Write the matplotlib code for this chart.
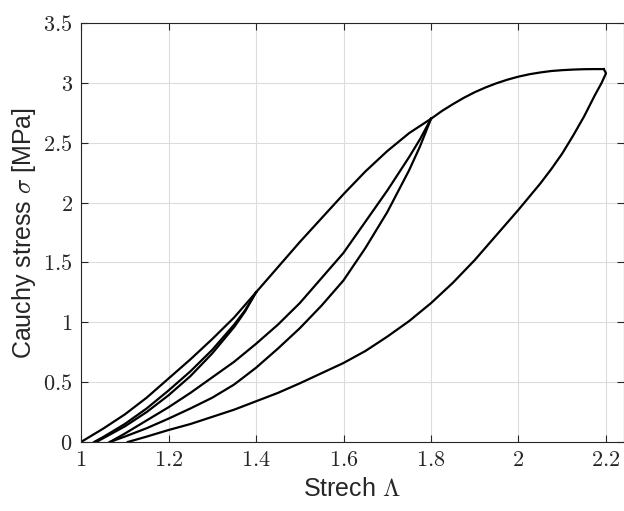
import numpy as np
import matplotlib.pyplot as plt

plt.rcParams['mathtext.fontset'] = 'cm'
plt.rcParams['font.family'] = ['Liberation Sans', 'DejaVu Sans']

# primary loading 1 -> 1.4
load1_x = [1.0, 1.05, 1.1, 1.15, 1.2, 1.25, 1.3, 1.35, 1.4]
load1_y = [0.0, 0.11, 0.23, 0.37, 0.53, 0.69, 0.86, 1.04, 1.25]

# unloading / reloading loop at 1.4
unl1_x = [1.4, 1.375, 1.35, 1.3, 1.25, 1.2, 1.15, 1.1, 1.05, 1.035]
unl1_y = [1.25, 1.09, 0.96, 0.74, 0.55, 0.39, 0.25, 0.13, 0.03, 0.0]
rel1_x = [1.03, 1.05, 1.1, 1.15, 1.2, 1.25, 1.3, 1.35, 1.375, 1.4]
rel1_y = [0.0, 0.04, 0.15, 0.28, 0.43, 0.59, 0.77, 0.98, 1.10, 1.25]

# primary loading 1.4 -> 1.8
load2_x = [1.4, 1.45, 1.5, 1.55, 1.6, 1.65, 1.7, 1.75, 1.8]
load2_y = [1.25, 1.46, 1.67, 1.87, 2.07, 2.26, 2.43, 2.58, 2.70]

# loop at 1.8
unl2_x = [1.8, 1.775, 1.75, 1.7, 1.65, 1.6, 1.55, 1.5, 1.45, 1.4, 1.35, 1.3,
          1.25, 1.2, 1.15, 1.1, 1.066]
unl2_y = [2.70, 2.47, 2.27, 1.92, 1.62, 1.35, 1.14, 0.95, 0.78, 0.62, 0.48,
          0.37, 0.28, 0.195, 0.115, 0.045, 0.0]
rel2_x = [1.066, 1.1, 1.15, 1.2, 1.25, 1.3, 1.35, 1.4, 1.45, 1.5, 1.55, 1.6,
          1.65, 1.7, 1.75, 1.775, 1.8]
rel2_y = [0.0, 0.07, 0.18, 0.29, 0.41, 0.54, 0.67, 0.82, 0.98, 1.16, 1.37,
          1.58, 1.84, 2.10, 2.38, 2.53, 2.70]

# primary loading 1.8 -> 2.2
load3_x = [1.8, 1.825, 1.85, 1.875, 1.9, 1.925, 1.95, 1.975, 2.0, 2.025, 2.05,
           2.075, 2.1, 2.125, 2.15, 2.175, 2.195]
load3_y = [2.70, 2.765, 2.822, 2.875, 2.922, 2.962, 2.997, 3.027, 3.052,
           3.072, 3.087, 3.099, 3.106, 3.111, 3.114, 3.115, 3.115]

# final unloading from 2.2
unl3_x = [2.195, 2.2, 2.19, 2.175, 2.15, 2.125, 2.1, 2.075, 2.05, 2.025, 2.0,
          1.95, 1.9, 1.85, 1.8, 1.75, 1.7, 1.65, 1.6, 1.55, 1.5, 1.45, 1.4,
          1.35, 1.3, 1.25, 1.2, 1.15, 1.107]
unl3_y = [3.115, 3.08, 3.00, 2.90, 2.72, 2.56, 2.41, 2.28, 2.16, 2.05, 1.94,
          1.73, 1.52, 1.33, 1.16, 1.01, 0.88, 0.76, 0.66, 0.575, 0.49, 0.41,
          0.34, 0.27, 0.21, 0.15, 0.10, 0.045, 0.0]

xticks = [1, 1.2, 1.4, 1.6, 1.8, 2, 2.2]
xlabels = ['1', '1.2', '1.4', '1.6', '1.8', '2', '2.2']
yticks = [0, 0.5, 1, 1.5, 2, 2.5, 3, 3.5]
ylabels = ['0', '0.5', '1', '1.5', '2', '2.5', '3', '3.5']

fig = plt.figure(figsize=(6.24, 5.11), dpi=100)
ax = fig.add_axes([81/624, 69/511, 542.5/624, 419/511])

segs = [(load1_x, load1_y), (unl1_x, unl1_y), (rel1_x, rel1_y),
        (load2_x, load2_y), (unl2_x, unl2_y), (rel2_x, rel2_y),
        (load3_x, load3_y), (unl3_x, unl3_y)]
for sx, sy in segs:
    ax.plot(sx, sy, color='black', linewidth=1.6, solid_joinstyle='round')

ax.set_xlim(1, 2.24)
ax.set_ylim(0, 3.5)
ax.set_xticks(xticks)
ax.set_xticklabels(['$' + s + '$' for s in xlabels])
ax.set_yticks(yticks)
ax.set_yticklabels(['$' + s + '$' for s in ylabels])
ax.tick_params(direction='in', top=True, right=True, length=5, width=0.8,
               color='#262626', labelsize=16, labelcolor='#262626', pad=6)
ax.grid(True, color='#dcdcdc', linewidth=0.8)
ax.set_axisbelow(True)
for sp in ax.spines.values():
    sp.set_color('#262626')
    sp.set_linewidth(0.8)

ax.set_xlabel(r'Strech $\Lambda$', fontsize=18, color='#262626')
ax.set_ylabel(r'Cauchy stress $\sigma$ [MPa]', fontsize=18, color='#262626')

plt.savefig('out.png', dpi=100)
